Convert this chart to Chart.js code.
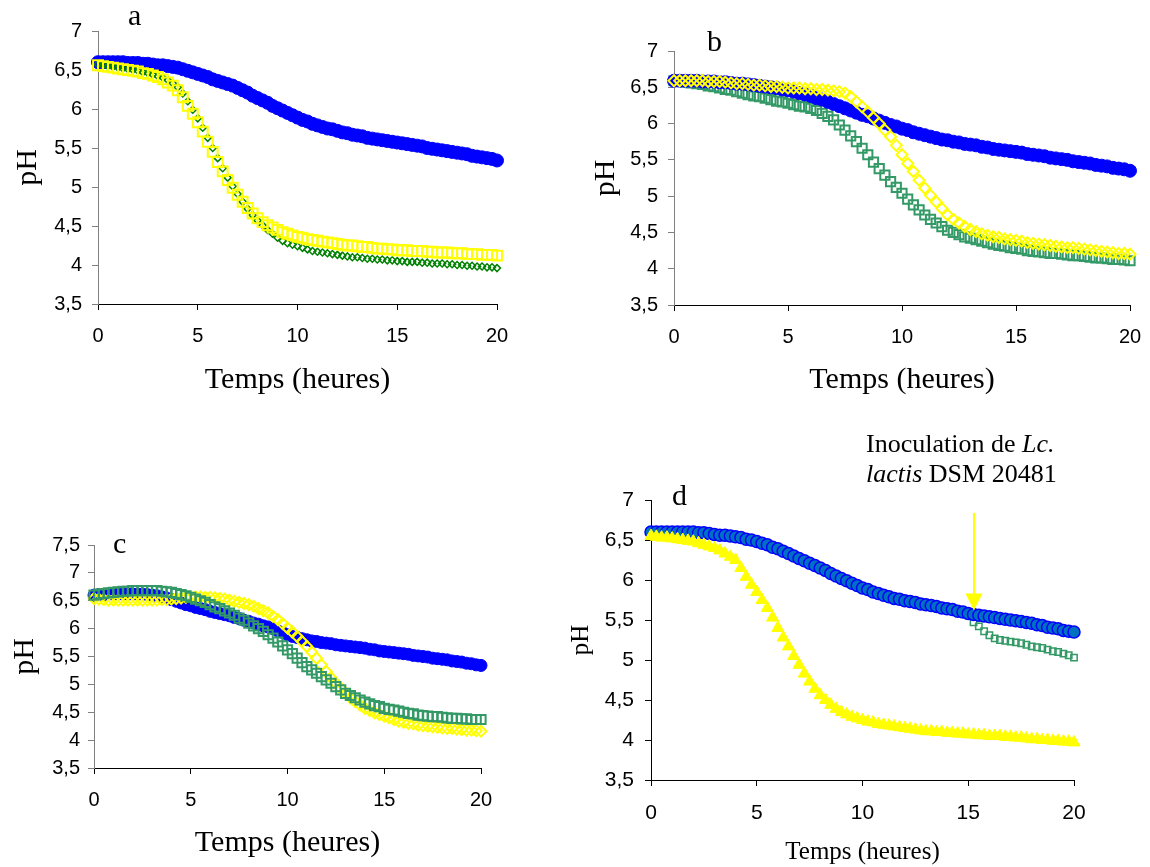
<!DOCTYPE html>
<html lang="fr">
<head>
  <meta charset="UTF-8">
  <title>pH - Temps (heures)</title>
  <script src="https://cdn.jsdelivr.net/npm/chart.js"></script>
  <style>
    body {
      margin: 0;
      width: 1150px;
      height: 867px;
      background: #fff;
      position: relative;
      overflow: hidden;
    }

    canvas {
      position: absolute;
    }

    .letter {
      position: absolute;
      font-family: 'Liberation Serif', 'Times New Roman', serif;
      font-size: 30px;
      line-height: 1;
      color: #000;
      z-index: 2;
    }

    .note {
      position: absolute;
      left: 866px;
      top: 429px;
      font-family: 'Liberation Serif', 'Times New Roman', serif;
      font-size: 26px;
      line-height: 30px;
      white-space: nowrap;
      color: #000;
      z-index: 2;
    }
  </style>
</head>
<body>
  <canvas id="chartA" width="520" height="410" style="left:0;top:0"></canvas>
  <canvas id="chartB" width="570" height="410" style="left:580px;top:0"></canvas>
  <canvas id="chartC" width="520" height="347" style="left:0;top:520px"></canvas>
  <canvas id="chartD" width="530" height="387" style="left:560px;top:480px"></canvas>

  <div class="letter" style="left:128px;top:0">a</div>
  <div class="letter" style="left:707px;top:26px">b</div>
  <div class="letter" style="left:113px;top:528px">c</div>
  <div class="letter" style="left:672px;top:480px">d</div>
  <div class="note">Inoculation de <i>Lc.</i><br><i>lactis</i> DSM 20481</div>

  <script>
    // sampling times (h)
    const times = [
      0, 0.25, 0.5, 0.75, 1, 1.25, 1.5, 1.75, 2, 2.25, 2.5, 2.75, 3, 3.25, 3.5, 3.75, 4, 4.25, 4.5, 4.75,
      5, 5.25, 5.5, 5.75, 6, 6.25, 6.5, 6.75, 7, 7.25, 7.5, 7.75, 8, 8.25, 8.5, 8.75, 9, 9.25, 9.5, 9.75,
      10, 10.25, 10.5, 10.75, 11, 11.25, 11.5, 11.75, 12, 12.25, 12.5, 12.75, 13, 13.25, 13.5, 13.75, 14, 14.25, 14.5, 14.75,
      15, 15.25, 15.5, 15.75, 16, 16.25, 16.5, 16.75, 17, 17.25, 17.5, 17.75, 18, 18.25, 18.5, 18.75, 19, 19.25, 19.5, 19.75,
      20
    ];

    // panel a
    const aBlue = [
      6.60,6.60,6.60,6.60, 6.60,6.60,6.59,6.59, 6.59,6.58,6.58,6.57, 6.56,6.56,6.55,6.54, 6.53,6.51,6.49,6.47,
      6.45,6.43,6.41,6.38, 6.36,6.34,6.32,6.30, 6.27,6.24,6.21,6.17, 6.14,6.11,6.08,6.04, 6.01,5.98,5.95,5.92,
      5.89,5.86,5.84,5.81, 5.79,5.77,5.75,5.74, 5.72,5.70,5.69,5.67, 5.66,5.65,5.63,5.62, 5.61,5.60,5.59,5.58,
      5.57,5.56,5.55,5.54, 5.53,5.52,5.50,5.49, 5.48,5.47,5.46,5.45, 5.44,5.43,5.42,5.40, 5.39,5.38,5.37,5.36,
      5.34
    ];
    const aYellow = [
      6.56,6.55,6.54,6.53, 6.52,6.51,6.50,6.49, 6.48,6.46,6.45,6.43, 6.41,6.38,6.34,6.30, 6.24,6.15,6.04,5.94,
      5.83,5.71,5.58,5.45, 5.32,5.20,5.09,4.99, 4.90,4.81,4.73,4.66, 4.60,4.55,4.51,4.48, 4.45,4.42,4.40,4.38,
      4.36,4.35,4.33,4.32, 4.31,4.30,4.29,4.28, 4.27,4.26,4.25,4.25, 4.24,4.23,4.23,4.22, 4.21,4.21,4.20,4.20,
      4.19,4.19,4.19,4.18, 4.18,4.18,4.17,4.17, 4.16,4.16,4.16,4.15, 4.15,4.15,4.14,4.14, 4.14,4.13,4.13,4.13,
      4.12
    ];
    const aGreen = [
      6.57,6.56,6.55,6.54, 6.53,6.52,6.51,6.50, 6.49,6.47,6.46,6.44, 6.42,6.40,6.37,6.33, 6.28,6.20,6.10,5.99,
      5.88,5.76,5.63,5.50, 5.37,5.24,5.12,5.01, 4.91,4.81,4.72,4.64, 4.57,4.51,4.45,4.40, 4.35,4.31,4.28,4.26,
      4.24,4.22,4.20,4.18, 4.17,4.16,4.15,4.14, 4.13,4.12,4.11,4.10, 4.10,4.09,4.08,4.08, 4.07,4.07,4.06,4.06,
      4.05,4.05,4.04,4.04, 4.04,4.03,4.03,4.02, 4.02,4.02,4.01,4.01, 4.00,4.00,3.99,3.99, 3.98,3.98,3.97,3.97,
      3.96
    ];

    // panel b
    const bBlue = [
      6.59,6.59,6.59,6.59, 6.59,6.58,6.58,6.58, 6.57,6.57,6.56,6.55, 6.55,6.54,6.53,6.52, 6.51,6.50,6.49,6.47,
      6.46,6.44,6.42,6.40, 6.38,6.35,6.33,6.30, 6.27,6.24,6.21,6.18, 6.15,6.12,6.10,6.07, 6.04,6.01,5.98,5.96,
      5.93,5.91,5.88,5.86, 5.84,5.82,5.80,5.78, 5.77,5.75,5.74,5.72, 5.71,5.70,5.68,5.67, 5.65,5.64,5.63,5.62,
      5.61,5.60,5.58,5.57, 5.56,5.55,5.53,5.52, 5.51,5.50,5.48,5.47, 5.46,5.45,5.43,5.42, 5.41,5.39,5.38,5.37,
      5.35
    ];
    const bYellow = [
      6.59,6.59,6.59,6.59, 6.59,6.59,6.58,6.58, 6.58,6.57,6.56,6.55, 6.55,6.54,6.53,6.53, 6.52,6.51,6.51,6.50,
      6.49,6.49,6.49,6.48, 6.48,6.47,6.47,6.46, 6.45,6.44,6.42,6.37, 6.30,6.23,6.16,6.08, 6.00,5.91,5.82,5.70,
      5.57,5.45,5.34,5.22, 5.11,5.01,4.92,4.83, 4.74,4.68,4.63,4.58, 4.54,4.51,4.48,4.46, 4.44,4.43,4.41,4.40,
      4.39,4.38,4.36,4.35, 4.34,4.33,4.32,4.31, 4.30,4.29,4.29,4.28, 4.27,4.26,4.25,4.24, 4.23,4.22,4.21,4.21,
      4.20
    ];
    const bGreen = [
      6.59,6.58,6.57,6.56, 6.55,6.54,6.52,6.51, 6.49,6.47,6.46,6.44, 6.42,6.40,6.38,6.37, 6.35,6.33,6.31,6.30,
      6.28,6.26,6.24,6.23, 6.21,6.18,6.14,6.10, 6.05,5.98,5.91,5.83, 5.75,5.66,5.57,5.47, 5.38,5.29,5.20,5.12,
      5.04,4.96,4.88,4.81, 4.74,4.68,4.63,4.58, 4.53,4.50,4.47,4.44, 4.42,4.40,4.38,4.36, 4.34,4.32,4.31,4.29,
      4.28,4.27,4.25,4.24, 4.23,4.22,4.21,4.21, 4.20,4.19,4.18,4.18, 4.17,4.16,4.15,4.15, 4.14,4.13,4.13,4.12,
      4.11
    ];

    // panel c
    const cBlue = [
      6.60,6.61,6.61,6.62, 6.62,6.62,6.62,6.62, 6.62,6.62,6.62,6.61, 6.60,6.59,6.57,6.55, 6.52,6.49,6.46,6.43,
      6.41,6.38,6.36,6.34, 6.31,6.29,6.27,6.25, 6.23,6.20,6.18,6.15, 6.13,6.10,6.08,6.05, 6.03,6.00,5.96,5.93,
      5.89,5.86,5.84,5.82, 5.80,5.78,5.77,5.75, 5.74,5.73,5.71,5.70, 5.69,5.68,5.67,5.66, 5.65,5.63,5.62,5.60,
      5.59,5.58,5.57,5.56, 5.55,5.54,5.52,5.51, 5.50,5.49,5.47,5.46, 5.45,5.44,5.42,5.41, 5.40,5.38,5.37,5.35,
      5.34
    ];
    const cYellow = [
      6.54,6.53,6.52,6.51, 6.51,6.51,6.51,6.51, 6.51,6.51,6.51,6.51, 6.51,6.51,6.52,6.52, 6.53,6.54,6.55,6.56,
      6.57,6.57,6.57,6.56, 6.56,6.55,6.54,6.53, 6.51,6.49,6.47,6.45, 6.43,6.40,6.36,6.32, 6.28,6.22,6.16,6.09,
      6.01,5.94,5.86,5.77, 5.68,5.58,5.47,5.35, 5.23,5.12,5.02,4.93, 4.84,4.76,4.69,4.63, 4.57,4.53,4.49,4.46,
      4.43,4.40,4.37,4.34, 4.32,4.30,4.29,4.27, 4.26,4.25,4.24,4.23, 4.22,4.21,4.21,4.20, 4.19,4.18,4.18,4.17,
      4.16
    ];
    const cGreen = [
      6.60,6.62,6.63,6.64, 6.65,6.66,6.67,6.67, 6.68,6.68,6.68,6.68, 6.68,6.68,6.67,6.66, 6.65,6.63,6.61,6.59,
      6.56,6.53,6.50,6.47, 6.43,6.39,6.36,6.32, 6.28,6.24,6.19,6.15, 6.10,6.05,6.00,5.95, 5.89,5.83,5.76,5.69,
      5.62,5.55,5.47,5.39, 5.32,5.26,5.20,5.14, 5.08,5.02,4.96,4.90, 4.84,4.80,4.76,4.72, 4.68,4.65,4.62,4.60,
      4.57,4.55,4.54,4.52, 4.50,4.48,4.47,4.45, 4.44,4.43,4.42,4.42, 4.41,4.40,4.39,4.39, 4.38,4.38,4.37,4.37,
      4.37
    ];

    // panel d
    const dBlue = [
      6.60,6.60,6.60,6.60, 6.60,6.60,6.60,6.60, 6.60,6.59,6.59,6.58, 6.57,6.56,6.56,6.55, 6.54,6.53,6.51,6.50,
      6.48,6.46,6.44,6.41, 6.39,6.36,6.33,6.30, 6.27,6.24,6.21,6.18, 6.15,6.12,6.08,6.05, 6.02,5.99,5.96,5.93,
      5.90,5.88,5.85,5.83, 5.81,5.79,5.77,5.76, 5.74,5.73,5.72,5.70, 5.69,5.68,5.67,5.65, 5.64,5.63,5.61,5.60,
      5.58,5.57,5.56,5.55, 5.54,5.53,5.52,5.51, 5.50,5.49,5.48,5.47, 5.46,5.44,5.43,5.41, 5.40,5.39,5.37,5.36,
      5.35
    ];
    const dYellow = [
      6.55,6.54,6.53,6.53, 6.52,6.51,6.50,6.49, 6.48,6.46,6.44,6.42, 6.40,6.37,6.33,6.29, 6.25,6.15,6.04,5.94,
      5.85,5.75,5.65,5.53, 5.40,5.28,5.17,5.05, 4.94,4.83,4.73,4.64, 4.56,4.50,4.44,4.39, 4.35,4.32,4.29,4.27,
      4.25,4.23,4.22,4.20, 4.19,4.18,4.17,4.16, 4.15,4.14,4.13,4.12, 4.11,4.11,4.10,4.10, 4.09,4.09,4.08,4.08,
      4.07,4.07,4.06,4.06, 4.05,4.05,4.05,4.04, 4.04,4.03,4.03,4.02, 4.01,4.01,4.00,4.00, 3.99,3.99,3.98,3.98,
      3.97
    ];
    const dGreen = [
      6.60,6.60,6.60,6.60, 6.60,6.60,6.60,6.60, 6.60,6.59,6.59,6.58, 6.57,6.56,6.56,6.55, 6.54,6.53,6.51,6.50,
      6.48,6.46,6.44,6.41, 6.39,6.36,6.33,6.30, 6.27,6.24,6.21,6.18, 6.15,6.12,6.08,6.05, 6.02,5.99,5.96,5.93,
      5.90,5.88,5.85,5.83, 5.81,5.79,5.77,5.76, 5.74,5.73,5.72,5.70, 5.69,5.68,5.67,5.65, 5.64,5.63,5.61,5.60,
      5.56,5.47,5.42,5.36, 5.31,5.27,5.25,5.24, 5.23,5.22,5.21,5.19, 5.17,5.16,5.15,5.13, 5.11,5.10,5.08,5.06,
      5.03
    ];

    // inoculation arrow (panel d)
    const arrowTime = 15.27;
    const arrowTop = 6.84;
    const arrowTip = 5.62;

    const serif = '"Liberation Serif", "Times New Roman", serif';
    const sans = '"Liberation Sans", Arial, sans-serif';
    const BLUE = '#0000FF';
    const YELLOW = '#FFFF00';
    const SEA = '#339966';
    const DARKGREEN = '#008000';

    function pts(vals) {
      return vals.map((v, i) => ({ x: times[i], y: v }));
    }

    function series(vals, style, radius, fill, stroke, lw) {
      return {
        data: pts(vals),
        showLine: false,
        clip: false,
        pointStyle: style,
        pointRadius: radius,
        pointBackgroundColor: fill,
        pointBorderColor: stroke,
        pointBorderWidth: lw
      };
    }

    function makeChart(id, datasets, p, plugins) {
      return new Chart(document.getElementById(id), {
        type: 'scatter',
        data: { datasets: datasets },
        plugins: plugins || [],
        options: {
          responsive: false,
          animation: false,
          events: [],
          layout: { autoPadding: false, padding: { left: 0, top: p.top, right: p.right, bottom: 0 } },
          plugins: { legend: { display: false }, tooltip: { enabled: false } },
          scales: {
            x: {
              type: 'linear',
              min: 0,
              max: 20,
              afterFit: s => { s.height = p.xh; s.paddingLeft = 0; s.paddingRight = 0; },
              ticks: { stepSize: 5, padding: p.xpad, color: '#000', font: { family: sans, size: p.tick } },
              grid: { drawOnChartArea: false, tickLength: 6, color: '#000' },
              border: { color: '#000', width: 1 },
              title: {
                display: true, text: 'Temps (heures)', color: '#000',
                font: { family: serif, size: p.xt, lineHeight: 1 },
                padding: { top: 0, bottom: p.xtb }
              }
            },
            y: {
              type: 'linear',
              min: 3.5,
              max: p.ymax,
              afterFit: s => { s.width = p.yw; s.paddingTop = 0; s.paddingBottom = 0; },
              ticks: {
                stepSize: 0.5, padding: p.ypad, color: '#000',
                font: { family: sans, size: p.tick },
                callback: v => String(v).replace('.', ',')
              },
              grid: { drawOnChartArea: false, tickLength: 6, color: p.yc },
              border: { color: p.yc, width: 1 },
              title: {
                display: true, text: 'pH', color: '#000',
                font: { family: serif, size: p.yt, lineHeight: 1 },
                padding: { top: p.ytt, bottom: 0 }
              }
            }
          }
        }
      });
    }

    const arrowPlugin = {
      id: 'arrow',
      afterDatasetsDraw(chart) {
        const { ctx, scales: { x, y } } = chart;
        const px = x.getPixelForValue(arrowTime);
        const y0 = y.getPixelForValue(arrowTop);
        const y1 = y.getPixelForValue(arrowTip);
        ctx.save();
        ctx.strokeStyle = YELLOW;
        ctx.fillStyle = YELLOW;
        ctx.lineWidth = 2;
        ctx.beginPath();
        ctx.moveTo(px, y0);
        ctx.lineTo(px, y1 - 14);
        ctx.stroke();
        ctx.beginPath();
        ctx.moveTo(px - 8.5, y1 - 17);
        ctx.lineTo(px + 8.5, y1 - 17);
        ctx.lineTo(px, y1);
        ctx.closePath();
        ctx.fill();
        ctx.restore();
      }
    };

    makeChart('chartA', [
      series(aYellow, 'rect', 7, 'rgba(0,0,0,0)', YELLOW, 2),
      series(aGreen, 'rectRot', 3.5, 'rgba(0,0,0,0)', DARKGREEN, 1.5),
      series(aBlue, 'circle', 6.5, BLUE, BLUE, 1)
    ], { top: 31, right: 23, xh: 106, yw: 98, ymax: 7, tick: 20, xpad: 14, ypad: 10,
         xt: 30, xtb: 15, yt: 30, ytt: 13, yc: '#808080' });

    makeChart('chartB', [
      series(bYellow, 'rectRot', 5.5, 'rgba(0,0,0,0)', YELLOW, 2),
      series(bBlue, 'circle', 6.5, BLUE, BLUE, 1),
      series(bGreen, 'rect', 6.5, 'rgba(0,0,0,0)', SEA, 2)
    ], { top: 51, right: 20, xh: 105, yw: 94, ymax: 7, tick: 20, xpad: 14, ypad: 10,
         xt: 30, xtb: 15, yt: 30, ytt: 11, yc: '#808080' });

    makeChart('chartC', [
      series(cGreen, 'rect', 6.5, 'rgba(0,0,0,0)', SEA, 2),
      series(cYellow, 'rectRot', 5.5, 'rgba(0,0,0,0)', YELLOW, 2),
      series(cBlue, 'circle', 6, BLUE, BLUE, 1)
    ], { top: 25, right: 39, xh: 99, yw: 94, ymax: 7.5, tick: 20, xpad: 14, ypad: 8,
         xt: 30, xtb: 9, yt: 30, ytt: 10, yc: '#808080' });

    makeChart('chartD', [
      series(dYellow, 'triangle', 7, YELLOW, YELLOW, 1),
      series(dBlue, 'circle', 6, '#0070C0', BLUE, 1.5),
      series(dGreen, 'rect', 4.5, 'rgba(0,0,0,0)', SEA, 1.5)
    ], { top: 20, right: 16, xh: 87, yw: 91, ymax: 7, tick: 21, xpad: 15, ypad: 11,
         xt: 25, xtb: 2, yt: 25, ytt: 9, yc: '#000' }, [arrowPlugin]);
  </script>
</body>
</html>
